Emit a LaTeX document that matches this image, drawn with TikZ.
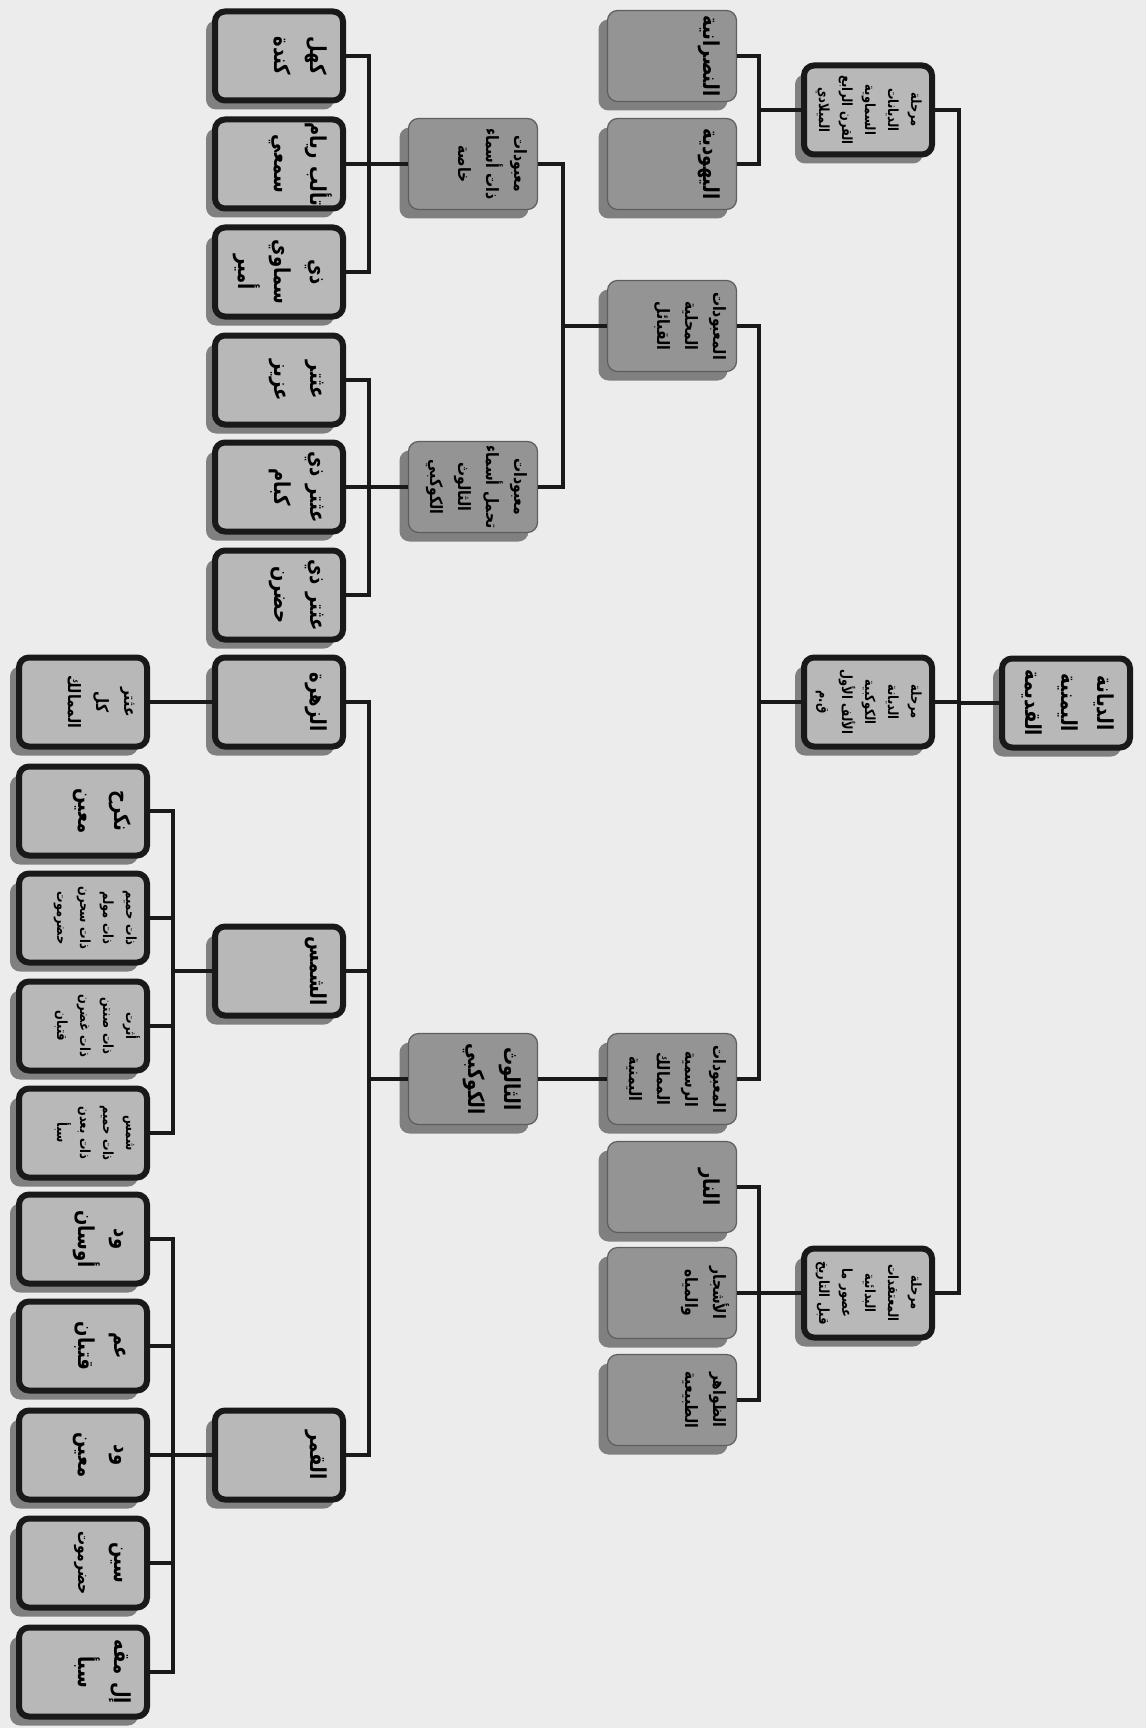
\documentclass[tikz,border=0pt]{standalone}
\usepackage{fontspec}
\newfontfamily\arabicfont[Script=Arabic,FakeStretch=0.82]{DejaVu Sans}
\TeXXeTstate=1
\usetikzlibrary{shadows}
\definecolor{BgClr}{rgb}{0.925,0.925,0.925}
\definecolor{LightClr}{rgb}{0.72,0.72,0.72}
\definecolor{DarkClr}{rgb}{0.58,0.58,0.58}
\definecolor{ShadowClr}{rgb}{0.5,0.5,0.5}
\definecolor{EdgeClr}{rgb}{0.1,0.1,0.1}
\newcommand\rl[1]{\beginR #1\endR}

\begin{document}
\begin{tikzpicture}[x=1pt,y=1pt,rotate=-90,transform shape,
  lbox/.style={draw=EdgeClr,line width=6pt,fill=LightClr,rounded corners=10pt,
    minimum width=89pt,minimum height=127pt,inner sep=0pt,text width=88pt,align=center,
    drop shadow={shadow xshift=-9pt,shadow yshift=-9pt,fill=ShadowClr,opacity=1}},
  dbox/.style={lbox,line width=1.2pt,draw=EdgeClr!70,fill=DarkClr,minimum width=91pt,minimum height=129pt},
  bigtxt/.style={font=\arabicfont\bfseries\fontsize{22}{36}\selectfont,text height=33pt,text depth=95pt},
  midtxt/.style={font=\arabicfont\bfseries\fontsize{17}{28}\selectfont,text height=23pt,text depth=105pt},
  smalltxt/.style={font=\arabicfont\bfseries\fontsize{14}{23}\selectfont,text height=21pt,text depth=107pt},
  link/.style={line width=4pt,draw=EdgeClr}]

\fill[BgClr] (0,0) rectangle (1728,1146);

% bars of the connectors
\coordinate (bA) at (0,173);
\coordinate (bB) at (0,369);
\coordinate (bC) at (0,563);
\coordinate (bD) at (0,759);
\coordinate (bE) at (0,959);

% root and stages
\node[lbox,bigtxt] (root) at (703,1066) {\rl{الديانة}\\\rl{اليمنية}\\\rl{القديمة}};
\node[lbox,smalltxt] (stA) at (110,868) {\rl{مرحلة}\\\rl{الديانات}\\\rl{السماوية}\\\rl{القرن الرابع}\\\rl{الميلادي}};
\node[lbox,smalltxt] (stB) at (702,868) {\rl{مرحلة}\\\rl{الديانة}\\\rl{الكوكبية}\\\rl{الألف الأول}\\\rl{ق.م}};
\node[lbox,smalltxt] (stC) at (1293,868) {\rl{مرحلة}\\\rl{المعتقدات}\\\rl{البدائية}\\\rl{عصور ما}\\\rl{قبل التاريخ}};

% second row
\node[dbox,bigtxt] (chr) at (56,672) {\rl{النصرانية}};
\node[dbox,bigtxt] (jud) at (164,672) {\rl{اليهودية}};
\node[dbox,midtxt] (local) at (326,672) {\rl{المعبودات}\\\rl{المحلية}\\\rl{القبائل}};
\node[dbox,midtxt] (state) at (1079,672) {\rl{المعبودات}\\\rl{الرسمية}\\\rl{الممالك}\\\rl{اليمنية}};
\node[dbox,bigtxt] (fire) at (1187,672) {\rl{النار}};
\node[dbox,midtxt] (trees) at (1293,672) {\rl{الأشجار}\\\rl{والمياه}};
\node[dbox,midtxt] (nature) at (1400,672) {\rl{الظواهر}\\\rl{الطبيعية}};

% third row
\node[dbox,midtxt] (named) at (164,473) {\rl{معبودات}\\\rl{ذات أسماء}\\\rl{خاصة}};
\node[dbox,midtxt] (trinames) at (487,473) {\rl{معبودات}\\\rl{تحمل أسماء}\\\rl{الثالوث}\\\rl{الكوكبي}};
\node[dbox,bigtxt] (trinity) at (1079,473) {\rl{الثالوث}\\\rl{الكوكبي}};

% fourth row
\node[lbox,bigtxt] (kahl) at (56,279) {\rl{كهل}\\\rl{كندة}};
\node[lbox,bigtxt] (taalab) at (164,279) {\rl{تألب ريام}\\\rl{سمعي}};
\node[lbox,bigtxt] (samawi) at (272,279) {\rl{ذي}\\\rl{سماوي}\\\rl{أمير}};
\node[lbox,bigtxt] (aziz) at (380,279) {\rl{عثتر}\\\rl{عزيز}};
\node[lbox,bigtxt] (kabam) at (487,279) {\rl{عثتر ذي}\\\rl{كبام}};
\node[lbox,bigtxt] (hadran) at (595,279) {\rl{عثتر ذي}\\\rl{حضرن}};
\node[lbox,bigtxt] (venus) at (702,279) {\rl{الزهرة}};
\node[lbox,bigtxt] (sun) at (971,279) {\rl{الشمس}};
\node[lbox,bigtxt] (moon) at (1455,279) {\rl{القمر}};

% fifth row
\node[lbox,midtxt] (allk) at (702,83) {\rl{عثتر}\\\rl{كل}\\\rl{الممالك}};
\node[lbox,bigtxt] (nikrah) at (811,83) {\rl{نكرح}\\\rl{معين}};
\node[lbox,smalltxt] (hadsun) at (918,83) {\rl{ذات حميم}\\\rl{ذات مولم}\\\rl{ذات سحرن}\\\rl{حضرموت}};
\node[lbox,smalltxt] (qatsun) at (1026,83) {\rl{أثرت}\\\rl{ذات صنتن}\\\rl{ذات غضرن}\\\rl{قتبان}};
\node[lbox,smalltxt] (sabsun) at (1133,83) {\rl{شمس}\\\rl{ذات حميم}\\\rl{ذات بعدن}\\\rl{سبأ}};
\node[lbox,bigtxt] (wadd) at (1239,83) {\rl{ود}\\\rl{أوسان}};
\node[lbox,bigtxt] (amm) at (1346,83) {\rl{عم}\\\rl{قتبان}};
\node[lbox,bigtxt] (waddm) at (1455,83) {\rl{ود}\\\rl{معين}};
\node[lbox,bigtxt] (sin) at (1563,83) {\rl{سين}\\\fontsize{17}{28}\selectfont\rl{حضرموت}};
\node[lbox,bigtxt] (ilmaqah) at (1672,83) {\rl{إل مقه}\\\rl{سبأ}};

% connectors
\draw[link] (root.south) |- (stA.north |- bE) -- (stA.north)
            (root.south) |- (stB.north |- bE) -- (stB.north)
            (root.south) |- (stC.north |- bE) -- (stC.north);
\draw[link] (stA.south) |- (chr.north |- bD) -- (chr.north)
            (stA.south) |- (jud.north |- bD) -- (jud.north);
\draw[link] (stB.south) |- (local.north |- bD) -- (local.north)
            (stB.south) |- (state.north |- bD) -- (state.north);
\draw[link] (stC.south) |- (fire.north |- bD) -- (fire.north)
            (stC.south) |- (trees.north |- bD) -- (trees.north)
            (stC.south) |- (nature.north |- bD) -- (nature.north);
\draw[link] (local.south) |- (named.north |- bC) -- (named.north)
            (local.south) |- (trinames.north |- bC) -- (trinames.north);
\draw[link] (state.south) -- (trinity.north);
\draw[link] (named.south) |- (kahl.north |- bB) -- (kahl.north)
            (named.south) |- (taalab.north |- bB) -- (taalab.north)
            (named.south) |- (samawi.north |- bB) -- (samawi.north);
\draw[link] (trinames.south) |- (aziz.north |- bB) -- (aziz.north)
            (trinames.south) |- (kabam.north |- bB) -- (kabam.north)
            (trinames.south) |- (hadran.north |- bB) -- (hadran.north);
\draw[link] (trinity.south) |- (venus.north |- bB) -- (venus.north)
            (trinity.south) |- (sun.north |- bB) -- (sun.north)
            (trinity.south) |- (moon.north |- bB) -- (moon.north);
\draw[link] (venus.south) -- (allk.north);
\draw[link] (sun.south) |- (nikrah.north |- bA) -- (nikrah.north)
            (sun.south) |- (hadsun.north |- bA) -- (hadsun.north)
            (sun.south) |- (qatsun.north |- bA) -- (qatsun.north)
            (sun.south) |- (sabsun.north |- bA) -- (sabsun.north);
\draw[link] (moon.south) |- (wadd.north |- bA) -- (wadd.north)
            (moon.south) |- (amm.north |- bA) -- (amm.north)
            (moon.south) |- (waddm.north |- bA) -- (waddm.north)
            (moon.south) |- (sin.north |- bA) -- (sin.north)
            (moon.south) |- (ilmaqah.north |- bA) -- (ilmaqah.north);

\end{tikzpicture}
\end{document}
